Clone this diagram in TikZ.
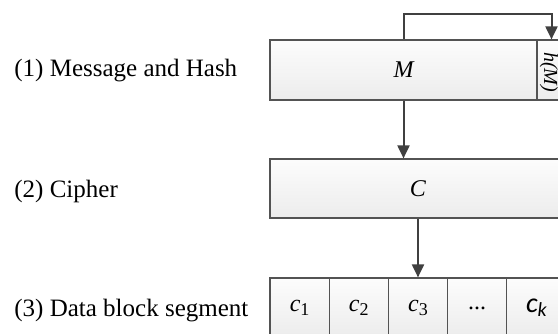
\documentclass[tikz,border=0pt]{standalone}
\usepackage{fontspec}
\setmainfont{Liberation Serif}
\newfontfamily\ckfont{Carlito}
\usetikzlibrary{arrows.meta}

\newcommand{\blk}[1]{\textit{c}\raisebox{-0.35ex}{\fontsize{9}{10}\selectfont #1}}

\tikzset{
  box/.style={draw=gray!65!black, line width=0.6pt, top color=gray!2, bottom color=gray!15,
    minimum height=30pt, inner sep=0pt, font=\fontsize{12}{14}\selectfont\itshape},
  lab/.style={anchor=west, inner sep=0pt, font=\fontsize{12.5}{15}\selectfont},
  flow/.style={draw=black!75, line width=1pt, -{Triangle[width=6pt,length=6.5pt]}}
}

\begin{document}
\begin{tikzpicture}[x=0.5pt,y=-0.5pt]
\useasboundingbox (0,0) rectangle (558,333);
\node[lab] (lab1) at (14,71) {(1) Message and Hash};
\node[lab] (lab2) at (14,191) {(2) Cipher};
\node[lab] (lab3) at (14,311) {(3) Data block segment};
\node[box, minimum width=133.5pt] (M) at (403.5,70) {M};
\node[box, minimum width=14.5pt] (hM) at (551.5,70) {};
\node[inner sep=0pt, font=\fontsize{10}{11}\selectfont\itshape] (hMtext) at (549,72) {\rotatebox{-90}{h(M)}};
\node[box, minimum width=148pt, minimum height=29.5pt] (C) at (418,188.5) {C};
\node[box, minimum width=29.6pt, font=\fontsize{12}{14}\selectfont] (c1) at (299.6,308) {\blk{1}};
\node[box, minimum width=29.6pt, font=\fontsize{12}{14}\selectfont] (c2) at (358.8,308) {\blk{2}};
\node[box, minimum width=29.6pt, font=\fontsize{12}{14}\selectfont] (c3) at (418,308) {\blk{3}};
\node[box, minimum width=29.6pt, font=\fontsize{12}{14}\selectfont] (dots) at (477.2,308) {...};
\node[box, minimum width=29.6pt, font=\fontsize{12}{14}\selectfont] (ck) at (536.4,308) {{\ckfont\itshape\fontsize{14}{16}\selectfont c}\raisebox{-0.35ex}{\ckfont\itshape\fontsize{10}{11}\selectfont k}};
% arrows
\draw[flow] (M.north) -- ++(0,-25) -| (hM.north);
\draw[flow] (M.south) -- (M.south |- C.north);
\draw[flow] (C.south) -- (c3.north);
\end{tikzpicture}
\end{document}
